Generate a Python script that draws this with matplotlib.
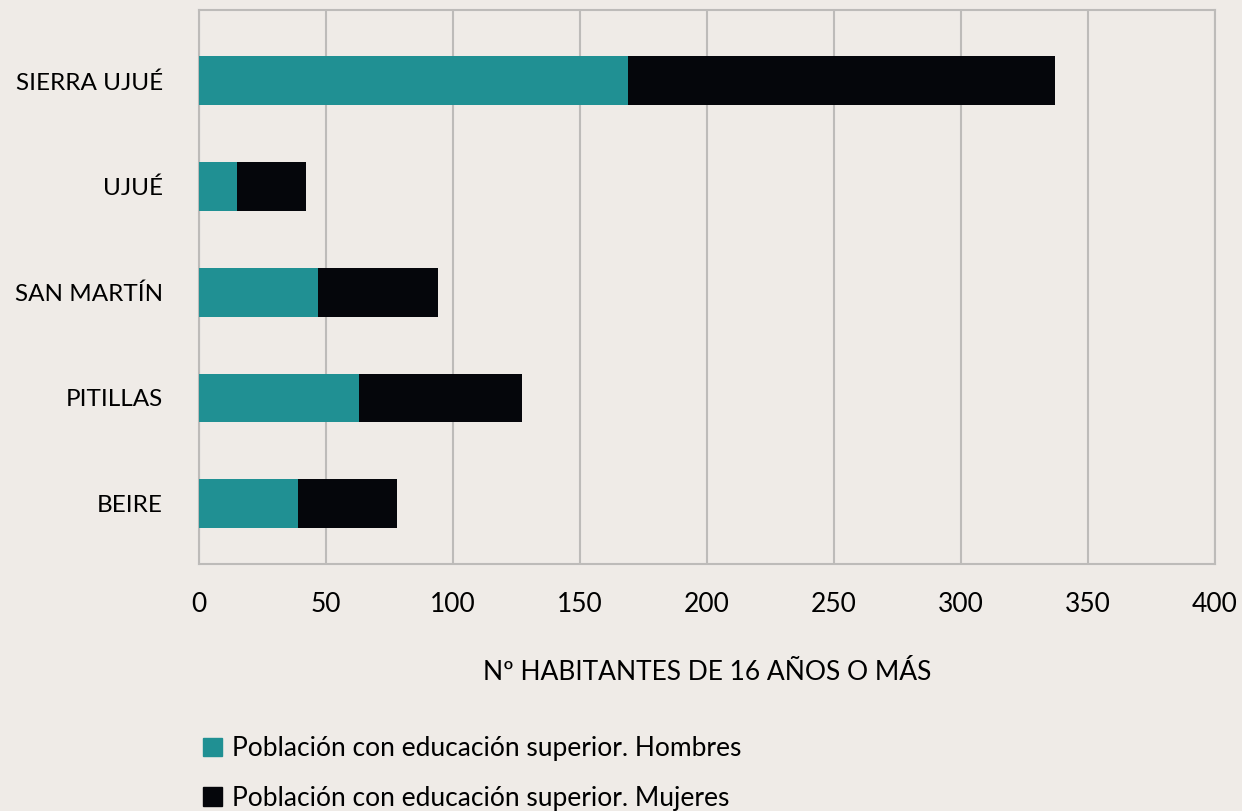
import matplotlib.pyplot as plt
from matplotlib.patches import Patch

plt.rcParams['font.family'] = ['Lato', 'DejaVu Sans']

municipios = ['BEIRE', 'PITILLAS', 'SAN MARTÍN', 'UJUÉ', 'SIERRA UJUÉ']
hombres = [39, 63, 47, 15, 169]
mujeres = [39, 64, 47, 27, 168]

series_labels = ['Población con educación superior. Hombres',
                 'Población con educación superior. Mujeres']
xticks = [0, 50, 100, 150, 200, 250, 300, 350, 400]

bg = '#efebe7'
teal = '#209093'
dark = '#05060b'
grid = '#bdbbb9'

fig = plt.figure(figsize=(12.42, 8.11), dpi=100, facecolor=bg)
ax = fig.add_axes([0.1602, 0.3046, 0.8181, 0.6831], facecolor=bg)

pos = range(len(municipios))
ax.barh(pos, hombres, height=0.46, color=teal, zorder=3)
ax.barh(pos, mujeres, left=hombres, height=0.46, color=dark, zorder=3)

ax.set_xlim(0, 400)
ax.set_ylim(-0.57, 4.67)
ax.set_xticks(xticks)
ax.set_xticklabels([str(t) for t in xticks], fontsize=19)
ax.set_yticks(list(pos))
ax.set_yticklabels(municipios, fontsize=17.5)
ax.tick_params(length=0, pad=20, axis='x')
ax.tick_params(length=0, pad=26, axis='y')
ax.xaxis.grid(True, color=grid, linewidth=1.5, zorder=0)
for s in ax.spines.values():
    s.set_color(grid)
    s.set_linewidth(1.5)

ax.set_xlabel('Nº HABITANTES DE 16 AÑOS O MÁS', fontsize=19, labelpad=31)

handles = [Patch(color=teal), Patch(color=dark)]
fig.legend(handles, series_labels, loc='upper left', bbox_to_anchor=(0.155, 0.105),
           frameon=False, fontsize=19, handlelength=0.7, handleheight=0.7,
           handletextpad=0.4, labelspacing=0.92, borderaxespad=0)

fig.savefig('out.png', dpi=100, facecolor=bg)
